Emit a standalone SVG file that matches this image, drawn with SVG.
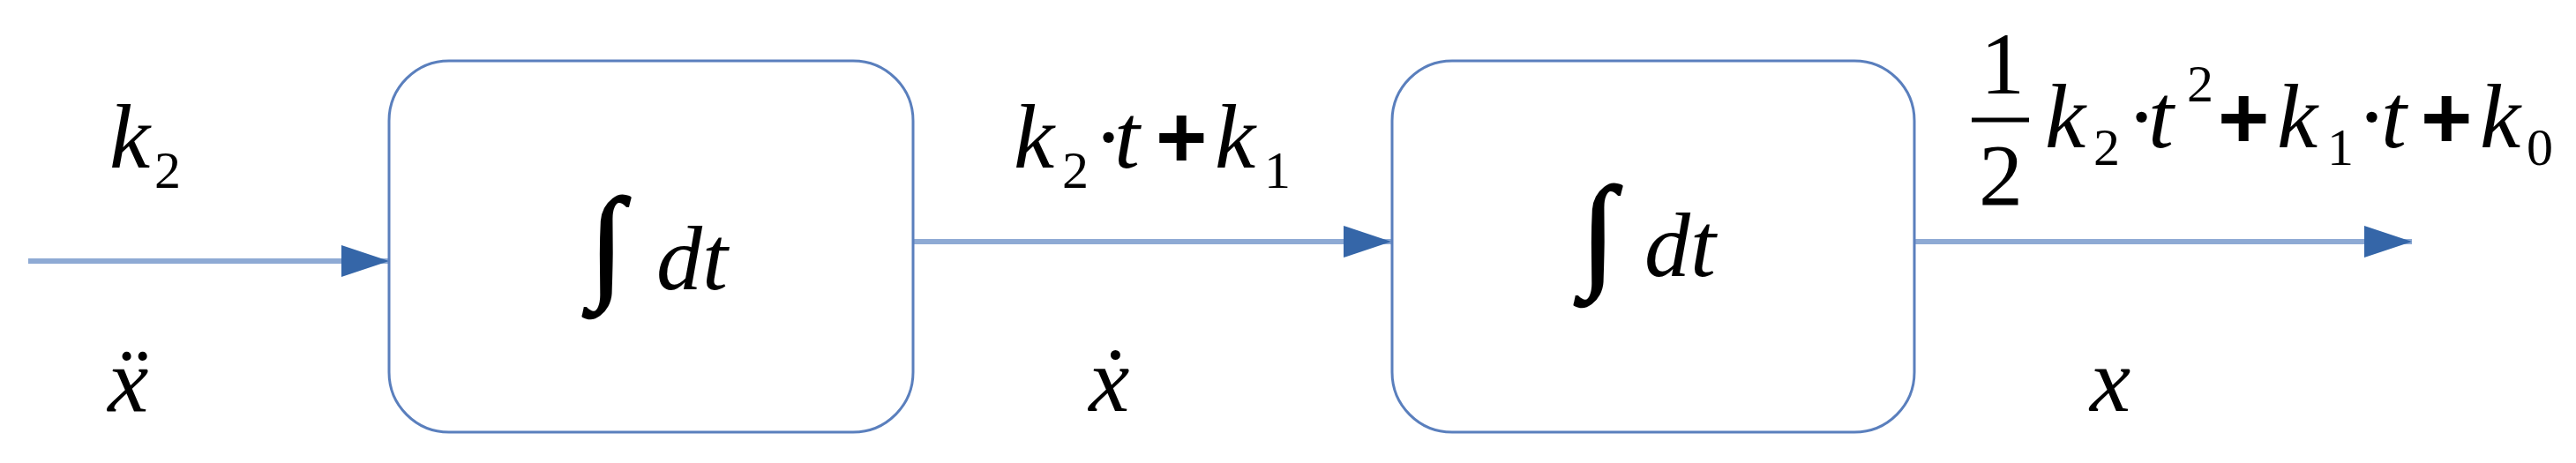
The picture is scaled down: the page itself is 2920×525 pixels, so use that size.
<svg xmlns="http://www.w3.org/2000/svg" width="2920" height="525" viewBox="0 0 2920 525">
<defs>
<style>
.box{fill:#ffffff;stroke:#5a7fbd;stroke-width:3}
.wire{stroke:#8eaad4;stroke-width:6;fill:none}
.mi{font-family:"Liberation Serif","DejaVu Serif",serif;font-style:italic;font-size:104px;fill:#000}
.mn{font-family:"Liberation Serif","DejaVu Serif",serif;font-size:100px;fill:#000}
.sub{font-family:"Liberation Serif","DejaVu Serif",serif;font-size:60px;fill:#000}
.op{font-family:"Liberation Sans","DejaVu Sans",sans-serif;font-weight:bold;font-size:100px;fill:#000}
.int{font-family:"Liberation Serif","DejaVu Serif",serif;font-size:142px;fill:#000;stroke:#000;stroke-width:2.5}
</style>
<marker id="arrow" viewBox="0 0 54 36" refX="54" refY="18" markerWidth="54" markerHeight="36" markerUnits="userSpaceOnUse" orient="auto">
<path d="M0,0 L54,18 L0,36 Z" fill="#3566a8"/>
</marker>
</defs>
<rect width="2920" height="525" fill="#ffffff"/>
<g id="connectors">
<line class="wire" x1="32" y1="296" x2="441" y2="296" marker-end="url(#arrow)"/>
<line class="wire" x1="1035" y1="274" x2="1577" y2="274" marker-end="url(#arrow)"/>
<line class="wire" x1="2170" y1="274" x2="2734" y2="274" marker-end="url(#arrow)"/>
</g>
<g id="integrator-1">
<rect class="box" x="441" y="69" width="594" height="421" rx="68" ry="68"/>
<text class="int" x="668" y="323">∫</text>
<text class="mi" x="744" y="328">dt</text>
</g>
<g id="integrator-2">
<rect class="box" x="1578" y="69" width="592" height="421" rx="68" ry="68"/>
<text class="int" x="1792" y="310">∫</text>
<text class="mi" x="1864" y="313">dt</text>
</g>
<g id="label-input">
<text class="mi" x="124" y="190">k</text>
<text class="sub" x="175" y="213">2</text>
<text class="mi" x="122" y="466">ẍ</text>
</g>
<g id="label-middle">
<text class="mi" x="1149" y="190">k</text>
<text class="sub" x="1204" y="213">2</text>
<text class="mi" x="1242" y="190">·</text>
<text class="mi" x="1263" y="190">t</text>
<text class="op" x="1310" y="190">+</text>
<text class="mi" x="1377" y="190">k</text>
<text class="sub" x="1433" y="213">1</text>
<text class="mi" x="1234" y="466">ẋ</text>
</g>
<g id="label-output">
<text class="mn" x="2245" y="106">1</text>
<line x1="2235" y1="136" x2="2300" y2="136" stroke="#000" stroke-width="5"/>
<text class="mn" x="2243" y="232">2</text>
<text class="mi" x="2318" y="167">k</text>
<text class="sub" x="2373" y="187">2</text>
<text class="mi" x="2413" y="167">·</text>
<text class="mi" x="2435" y="167">t</text>
<text class="sub" x="2479" y="115">2</text>
<text class="op" x="2514" y="168">+</text>
<text class="mi" x="2581" y="167">k</text>
<text class="sub" x="2638" y="187">1</text>
<text class="mi" x="2674" y="167">·</text>
<text class="mi" x="2699" y="167">t</text>
<text class="op" x="2744" y="168">+</text>
<text class="mi" x="2811" y="167">k</text>
<text class="sub" x="2864" y="187">0</text>
<text class="mi" x="2369" y="466">x</text>
</g>
</svg>
